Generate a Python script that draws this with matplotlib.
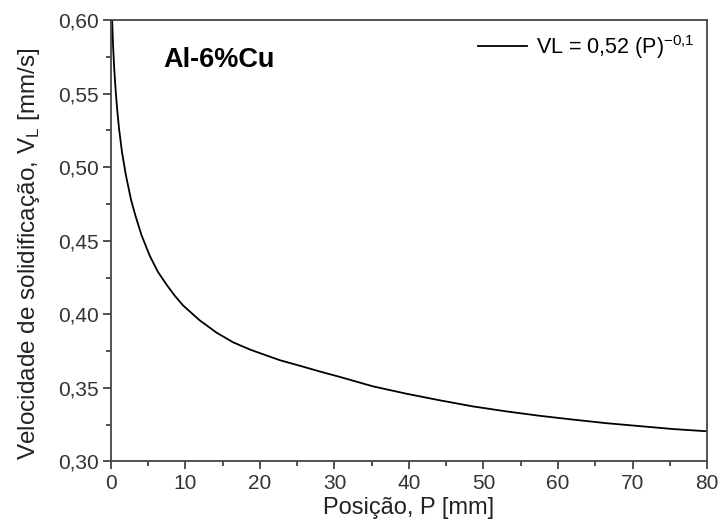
import matplotlib.pyplot as plt
from matplotlib.ticker import FuncFormatter, MultipleLocator

plt.rcParams["font.family"] = ["Liberation Sans", "DejaVu Sans"]

# values
posicao = [0.17, 0.30, 0.45, 0.63, 0.85, 1.1, 1.5, 2.0, 2.7, 3.3, 4.1, 5.2,
           6.3, 7.5, 8.6, 9.7, 11.9, 14.2, 16.4, 18.7, 20.9, 22.7, 25.4,
           28.0, 30.7, 35.2, 39.7, 44.2, 48.6, 53.1, 57.6, 62.1, 66.5, 71.0,
           75.5, 80.0]
velocidade = [0.600, 0.582, 0.567, 0.553, 0.539, 0.526, 0.510, 0.495, 0.478,
              0.467, 0.454, 0.440, 0.429, 0.420, 0.4125, 0.406, 0.396, 0.3875,
              0.381, 0.376, 0.372, 0.3688, 0.3650, 0.3612, 0.3575, 0.351,
              0.346, 0.3415, 0.3374, 0.334, 0.331, 0.3284, 0.326, 0.324,
              0.322, 0.3205]

fig = plt.figure(figsize=(7.2, 5.31), dpi=100)
ax = fig.add_axes([0.154, 0.131, 0.828, 0.831])

ax.plot(posicao, velocidade, color="black", linewidth=1.3,
        label=r"VL = 0,52 (P)$^{\mathregular{-0{,}1}}$")

ax.set_xlim(0, 80)
ax.set_ylim(0.30, 0.60)
ax.xaxis.set_major_locator(MultipleLocator(10))
ax.xaxis.set_minor_locator(MultipleLocator(5))
ax.yaxis.set_major_locator(MultipleLocator(0.05))
ax.yaxis.set_minor_locator(MultipleLocator(0.025))
ax.yaxis.set_major_formatter(FuncFormatter(lambda v, _: f"{v:.2f}".replace(".", ",")))
ax.tick_params(which="major", direction="out", length=6, width=1.2, labelsize=15,
               colors="#333333", pad=3)
ax.tick_params(which="minor", direction="out", length=3.5, width=1.2, colors="#333333")
for s in ax.spines.values():
    s.set_color("#444444")
    s.set_linewidth(1.3)

ax.set_xlabel("Posição, P [mm]", fontsize=17, color="#222222", labelpad=3)
ax.set_ylabel(r"Velocidade de solidificação, V$_\mathregular{L}$ [mm/s]", fontsize=17.5,
              color="#222222")
ax.yaxis.set_label_coords(-0.116, 0.47)

ax.text(0.088, 0.91, "Al-6%Cu", transform=ax.transAxes, fontsize=19.5,
        fontweight="bold", ha="left", va="center")
ax.legend(loc="upper right", frameon=False, fontsize=15.5, handlelength=2.3,
          borderaxespad=0.2, handletextpad=0.4)

fig.savefig("out.png", dpi=100)
